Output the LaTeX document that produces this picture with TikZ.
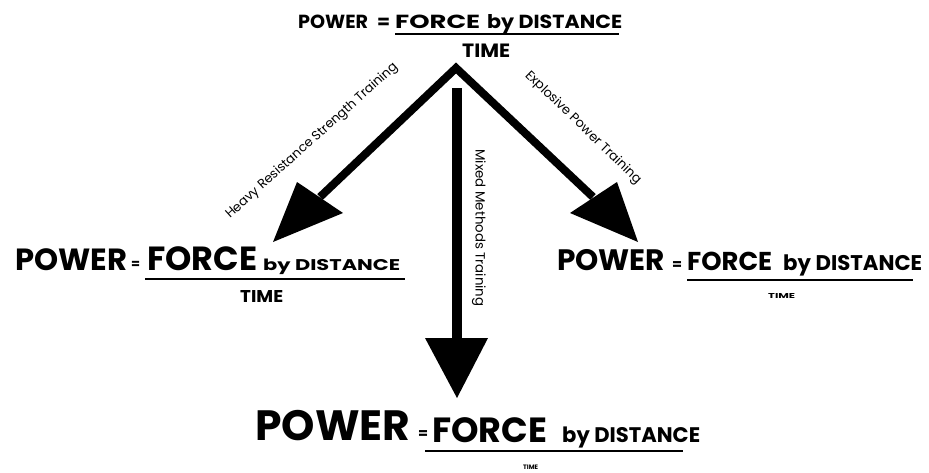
\documentclass[tikz,border=0pt]{standalone}
\usepackage{fontspec}
\setmainfont{Poppins}
\usepackage{graphicx}
\tikzset{
  ftxt/.style={inner sep=0pt, anchor=base west, font=\bfseries},
  lbl/.style={inner sep=0pt, font=\normalfont},
  uline/.style={line width=1.3pt},
  shaft/.style={line width=8pt, line join=miter, miter limit=10},
  vshaft/.style={line width=10pt},
  head/.style={fill=black, draw=none},
}
\newcommand{\fw}[2]{\resizebox{#1pt}{!}{#2}}
\newcommand{\fwh}[3]{\resizebox{#1pt}{#2pt}{#3}}
\begin{document}
\begin{tikzpicture}[x=1pt,y=-1pt]
\fill[white] (0,0) rectangle (929,472);
\useasboundingbox (0,0) rectangle (929,472);

% ---- top formula
\node[ftxt] (tpow) at (298,28) {\fwh{70}{13.5}{POWER}};
\node[ftxt] (teq)  at (377,28) {\fw{13}{=}};
\node[ftxt] (tfor) at (395,28) {\fwh{85}{13.5}{FORCE}};
\node[ftxt] (tdis) at (487,28) {\fwh{135}{14}{by DISTANCE}};
\coordinate (tu1) at (395,34); \coordinate (tu2) at (619,34);
\draw[uline] (tu1) -- (tu2);
\node[ftxt] (ttim) at (462,57) {\fwh{48}{13.5}{TIME}};

% ---- left formula
\node[ftxt] (lpow) at (15,270) {\fw{112}{POWER}};
\node[ftxt] (leq)  at (131,268) {\fw{9}{=}};
\node[ftxt] (lfor) at (147,270) {\fw{110}{FORCE}};
\node[ftxt] (ldis) at (263,270) {\fwh{137}{11.5}{by DISTANCE}};
\coordinate (lu1) at (145,279); \coordinate (lu2) at (405,279);
\draw[uline] (lu1) -- (lu2);
\node[ftxt] (ltim) at (240,302) {\fwh{43}{12}{TIME}};

% ---- right formula
\node[ftxt] (rpow) at (557,270) {\fw{108}{POWER}};
\node[ftxt] (req)  at (672,269) {\fw{10}{=}};
\node[ftxt] (rfor) at (687,270) {\fw{85}{FORCE}};
\node[ftxt] (rdis) at (783,270) {\fw{139}{by DISTANCE}};
\coordinate (ru1) at (687,280); \coordinate (ru2) at (913,280);
\draw[uline] (ru1) -- (ru2);
\node[ftxt] (rtim) at (768,298) {\fwh{27}{5}{TIME}};

% ---- bottom formula
\node[ftxt] (bpow) at (255,440) {\fw{155}{POWER}};
\node[ftxt] (beq)  at (418,438) {\fw{10}{=}};
\node[ftxt] (bfor) at (432,442) {\fw{115}{FORCE}};
\node[ftxt] (bdis) at (562,442) {\fw{138}{by DISTANCE}};
\coordinate (bu1) at (425,451); \coordinate (bu2) at (683,451);
\draw[uline] (bu1) -- (bu2);
\node[ftxt] (btim) at (523,469) {\fwh{15}{4.5}{TIME}};

% ---- arrows
\coordinate (apex) at (456,68);
\coordinate (lmid) at (320,197);
\coordinate (rmid) at (593,197);
\draw[shaft] (lmid) -- (apex) -- (rmid);
\coordinate (lh1) at (297,182); \coordinate (lh2) at (343,213); \coordinate (ltip) at (273,242);
\fill[head] (lh1) -- (lh2) -- (ltip) -- cycle;
\coordinate (rh1) at (617,182); \coordinate (rh2) at (570,213); \coordinate (rtip) at (638,242);
\fill[head] (rh1) -- (rh2) -- (rtip) -- cycle;
\coordinate (vtop) at (457,88); \coordinate (vbase) at (457,339);
\draw[vshaft] (vtop) -- (vbase);
\coordinate (vh1) at (425,338); \coordinate (vh2) at (488,338); \coordinate (vtip) at (457,398);
\fill[head] (vh1) -- (vh2) -- (vtip) -- cycle;

% ---- arrow labels
\node[lbl, rotate=42] (lheavy) at (312,141) {\fw{226}{Heavy Resistance Strength Training}};
\node[lbl, rotate=-44] (lexpl) at (583,128) {\fw{156}{Explosive Power Training}};
\node[lbl, rotate=-90] (lmix) at (479,228) {\fw{157}{Mixed Methods Training}};
\end{tikzpicture}
\end{document}
